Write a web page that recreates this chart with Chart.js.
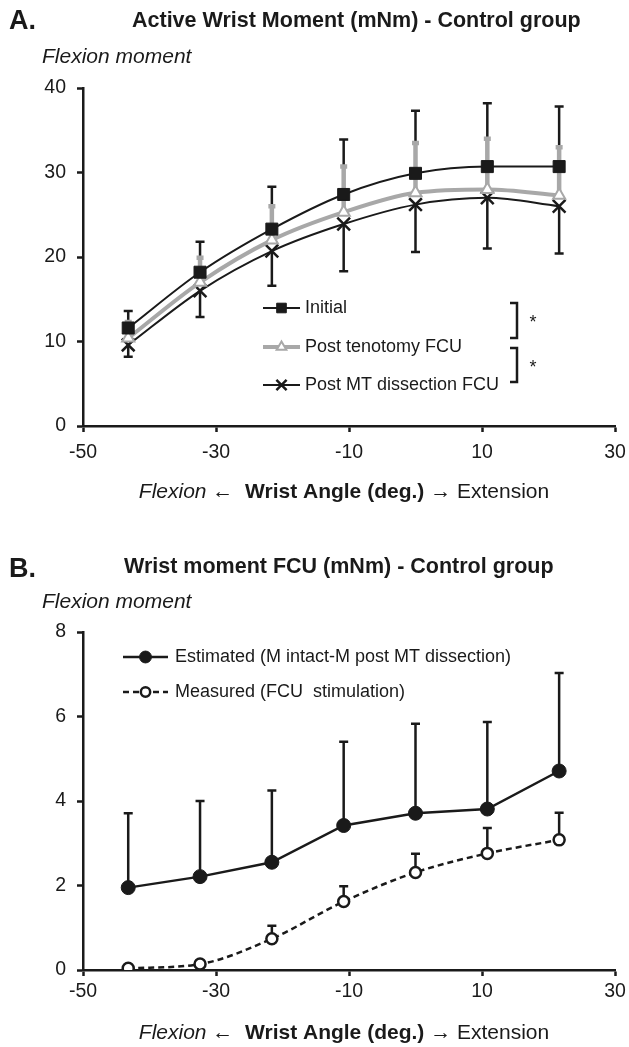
<!DOCTYPE html>
<html>
<head>
<meta charset="utf-8">
<title>Wrist moment - Control group</title>
<script src="https://cdn.jsdelivr.net/npm/chart.js@4.4.0/dist/chart.umd.min.js"></script>
<style>
  html, body { margin: 0; padding: 0; background: #fff; overflow: hidden; }
  #wrapA { position: absolute; left: 0; top: 0; width: 629px; height: 530px; }
  #wrapB { position: absolute; left: 0; top: 530px; width: 629px; height: 517px; }
  canvas { display: block; }
</style>
</head>
<body>
<div id="wrapA"><canvas id="chartA"></canvas></div>
<div id="wrapB"><canvas id="chartB"></canvas></div>
<script>
'use strict';

/* data */
const angles = [-43.2, -32.4, -21.6, -10.8, 0, 10.8, 21.6];
const xTicks = [-50, -30, -10, 10, 30];

// A. active wrist moment
const initialMean = [11.6, 18.2, 23.3, 27.4, 29.9, 30.7, 30.7];
const initialSd = [2.0, 3.6, 5.0, 6.5, 7.4, 7.5, 7.1];
const tenotomyMean = [10.4, 17.0, 22.0, 25.3, 27.6, 28.0, 27.3];
const tenotomySd = [1.9, 2.9, 4.0, 5.4, 5.9, 6.0, 5.7];
const mtMean = [9.6, 16.0, 20.7, 23.9, 26.2, 27.0, 26.0];
const mtSd = [1.4, 3.1, 4.1, 5.6, 5.6, 6.0, 5.6];
const yTicksA = [0, 10, 20, 30, 40];

// B. wrist moment FCU
const estimatedMean = [1.95, 2.21, 2.55, 3.42, 3.71, 3.81, 4.71];
const estimatedSd = [1.76, 1.79, 1.70, 1.98, 2.12, 2.06, 2.32];
const measuredMean = [0.04, 0.14, 0.74, 1.62, 2.31, 2.76, 3.08];
const measuredSd = [0.03, 0.05, 0.31, 0.36, 0.44, 0.60, 0.64];
const yTicksB = [0, 2, 4, 6, 8];

const FONT = '"Liberation Sans", Arial, Helvetica, sans-serif';
const INK = '#1a1a1a';
const GREY = '#a8a8a8';

function points(values) {
    return values.map(function(v, i) { return { x: angles[i], y: v }; });
}

/* error bars, drawn under the lines */
const errorBarPlugin = {
    id: 'errorBars',
    beforeDatasetsDraw(chart) {
        const ctx = chart.ctx;
        const xs = chart.scales.x;
        const ys = chart.scales.y;
        chart.data.datasets.forEach(function(ds) {
            if (!ds.errors) return;
            ctx.save();
            ctx.strokeStyle = ds.errColor;
            ctx.lineWidth = ds.errWidth;
            ds.data.forEach(function(p, i) {
                const px = xs.getPixelForValue(p.x);
                const y0 = ys.getPixelForValue(p.y);
                const y1 = ys.getPixelForValue(p.y + ds.errDir * ds.errors[i]);
                ctx.beginPath();
                ctx.moveTo(px, y0);
                ctx.lineTo(px, y1);
                ctx.moveTo(px - ds.capHalf, y1);
                ctx.lineTo(px + ds.capHalf, y1);
                ctx.stroke();
            });
            ctx.restore();
        });
    }
};

/* titles, panel letter, axis captions */
const framePlugin = {
    id: 'frame',
    afterDraw(chart, args, opts) {
        const ctx = chart.ctx;
        ctx.save();
        ctx.fillStyle = INK;
        ctx.textBaseline = 'middle';
        ctx.textAlign = 'left';

        ctx.font = 'bold 27px ' + FONT;
        ctx.fillText(opts.panel, 9, opts.panelY);

        ctx.font = 'bold 21.5px ' + FONT;
        ctx.fillText(opts.title, opts.titleX, opts.titleY);

        ctx.font = 'italic 21px ' + FONT;
        ctx.fillText('Flexion moment', 42, opts.yLabelY);

        // x caption with mixed styles
        const parts = [
            { t: 'Flexion', f: 'italic 21px ' + FONT },
            { t: ' \u2190  ', f: '21px ' + FONT },
            { t: 'Wrist Angle (deg.)', f: 'bold 21px ' + FONT },
            { t: ' \u2192 ', f: '21px ' + FONT },
            { t: 'Extension', f: '21px ' + FONT }
        ];
        let total = 0;
        parts.forEach(function(p) { ctx.font = p.f; p.w = ctx.measureText(p.t).width; total += p.w; });
        let x = opts.xLabelX - total / 2;
        parts.forEach(function(p) {
            ctx.font = p.f;
            ctx.fillText(p.t, x, opts.xLabelY);
            x += p.w;
        });
        ctx.restore();
    }
};

/* legend inside the plot, line + marker like the figure */
const panelLegendPlugin = {
    id: 'panelLegend',
    afterDraw(chart, args, opts) {
        const ctx = chart.ctx;
        const area = chart.chartArea;
        const x0 = area.left + opts.left;
        const rowsY = opts.rows.map(function(r) { return area.top + r; });
        ctx.save();
        chart.data.datasets.forEach(function(ds, i) {
            const y = rowsY[i];
            ctx.strokeStyle = ds.borderColor;
            ctx.lineWidth = ds.borderWidth;
            ctx.setLineDash(ds.borderDash || []);
            ctx.beginPath();
            ctx.moveTo(x0, y);
            ctx.lineTo(x0 + opts.lineLen, y);
            ctx.stroke();
            ctx.setLineDash([]);
            ctx.fillStyle = ds.pointBackgroundColor;
            ctx.strokeStyle = ds.pointBorderColor;
            ctx.lineWidth = ds.pointBorderWidth;
            Chart.helpers.drawPoint(ctx, {
                pointStyle: ds.pointStyle,
                radius: ds.pointRadius * opts.markerScale,
                borderWidth: ds.pointBorderWidth,
                rotation: 0
            }, x0 + opts.lineLen / 2, y);
            ctx.fillStyle = INK;
            ctx.font = opts.font;
            ctx.textBaseline = 'middle';
            ctx.textAlign = 'left';
            ctx.fillText(ds.label, x0 + opts.lineLen + opts.gap, y);
        });

        // significance brackets
        (opts.brackets || []).forEach(function(b, k) {
            const top = rowsY[b[0]] - 5 + 6 * k;
            const bottom = rowsY[b[1]] - 9 + 6 * k;
            const bx = area.left + opts.bracketX;
            ctx.strokeStyle = INK;
            ctx.lineWidth = 2.5;
            ctx.beginPath();
            ctx.moveTo(bx - 7, top);
            ctx.lineTo(bx, top);
            ctx.lineTo(bx, bottom);
            ctx.lineTo(bx - 7, bottom);
            ctx.stroke();
            ctx.fillStyle = INK;
            ctx.font = '18px ' + FONT;
            ctx.textAlign = 'center';
            ctx.textBaseline = 'middle';
            ctx.fillText('*', bx + 16, (top + bottom) / 2 + 3);
        });
        ctx.restore();
    }
};

function axes(yTicks, xHeight, xPad) {
    const tickFont = { family: FONT, size: 19.5 };
    const grid = { drawOnChartArea: false, drawTicks: true, tickLength: 6, tickWidth: 2.5, tickColor: INK, color: INK };
    const border = { display: true, color: INK, width: 2.5 };
    return {
        x: {
            type: 'linear',
            min: xTicks[0],
            max: xTicks[xTicks.length - 1],
            afterBuildTicks: function(scale) { scale.ticks = xTicks.map(function(v) { return { value: v }; }); },
            afterFit: function(scale) {
                scale.height = xHeight;
                scale.paddingLeft = 0;
                scale.paddingRight = 0;
            },
            ticks: { font: tickFont, color: INK, padding: xPad, maxRotation: 0, autoSkip: false },
            grid: grid,
            border: border
        },
        y: {
            min: yTicks[0],
            max: yTicks[yTicks.length - 1],
            afterBuildTicks: function(scale) { scale.ticks = yTicks.map(function(v) { return { value: v }; }); },
            afterFit: function(scale) {
                scale.width = 83;
                scale.paddingTop = 0;
                scale.paddingBottom = 0;
            },
            ticks: { font: tickFont, color: INK, padding: 11 },
            grid: grid,
            border: border
        }
    };
}

/* chart A */
new Chart(document.getElementById('chartA'), {
    type: 'line',
    data: {
        datasets: [{
            label: 'Initial',
            data: points(initialMean),
            errors: initialSd, errDir: 1, errColor: INK, errWidth: 2.5, capHalf: 4.5,
            borderColor: INK, borderWidth: 2, cubicInterpolationMode: 'monotone',
            pointStyle: 'rect', pointRadius: 8.5, pointBackgroundColor: INK, pointBorderColor: INK, pointBorderWidth: 1
        }, {
            label: 'Post tenotomy FCU',
            data: points(tenotomyMean),
            errors: tenotomySd, errDir: 1, errColor: GREY, errWidth: 4.5, capHalf: 3.5,
            borderColor: GREY, borderWidth: 4, cubicInterpolationMode: 'monotone',
            pointStyle: 'triangle', pointRadius: 7, pointBackgroundColor: '#fff', pointBorderColor: GREY, pointBorderWidth: 2
        }, {
            label: 'Post MT dissection FCU',
            data: points(mtMean),
            errors: mtSd, errDir: -1, errColor: INK, errWidth: 2.5, capHalf: 4.5,
            borderColor: INK, borderWidth: 2, cubicInterpolationMode: 'monotone',
            pointStyle: 'crossRot', pointRadius: 9, pointBackgroundColor: INK, pointBorderColor: INK, pointBorderWidth: 2.5
        }]
    },
    options: {
        responsive: true,
        maintainAspectRatio: false,
        animation: false,
        devicePixelRatio: 1,
        layout: { padding: { top: 88, right: 14, bottom: 0, left: 0 } },
        scales: axes(yTicksA, 104, 9),
        plugins: {
            legend: { display: false },
            tooltip: { enabled: false },
            frame: {
                panel: 'A.', panelY: 22,
                title: 'Active Wrist Moment (mNm) - Control group', titleX: 132, titleY: 21,
                yLabelY: 57, xLabelX: 344, xLabelY: 492
            },
            panelLegend: {
                left: 180, lineLen: 37, gap: 5, rows: [220, 259, 297], markerScale: 0.8,
                font: '18px ' + FONT, brackets: [[0, 1], [1, 2]], bracketX: 434
            }
        }
    },
    plugins: [errorBarPlugin, framePlugin, panelLegendPlugin]
});

/* chart B */
new Chart(document.getElementById('chartB'), {
    type: 'line',
    data: {
        datasets: [{
            label: 'Estimated (M intact-M post MT dissection)',
            data: points(estimatedMean),
            errors: estimatedSd, errDir: 1, errColor: INK, errWidth: 2.5, capHalf: 4.5,
            borderColor: INK, borderWidth: 2.5, tension: 0,
            pointStyle: 'circle', pointRadius: 7, pointBackgroundColor: INK, pointBorderColor: INK, pointBorderWidth: 1
        }, {
            label: 'Measured (FCU  stimulation)',
            data: points(measuredMean),
            errors: measuredSd, errDir: 1, errColor: INK, errWidth: 2.5, capHalf: 4.5,
            borderColor: INK, borderWidth: 2.5, borderDash: [6, 4], cubicInterpolationMode: 'monotone',
            pointStyle: 'circle', pointRadius: 5.5, pointBackgroundColor: '#fff', pointBorderColor: INK, pointBorderWidth: 2.5
        }]
    },
    options: {
        responsive: true,
        maintainAspectRatio: false,
        animation: false,
        devicePixelRatio: 1,
        layout: { padding: { top: 102, right: 14, bottom: 0, left: 0 } },
        scales: axes(yTicksB, 77, 4),
        plugins: {
            legend: { display: false },
            tooltip: { enabled: false },
            frame: {
                panel: 'B.', panelY: 40,
                title: 'Wrist moment FCU (mNm) - Control group', titleX: 124, titleY: 37,
                yLabelY: 72, xLabelX: 344, xLabelY: 503
            },
            panelLegend: {
                left: 40, lineLen: 45, gap: 7, rows: [25, 60], markerScale: 0.85,
                font: '18px ' + FONT
            }
        }
    },
    plugins: [errorBarPlugin, framePlugin, panelLegendPlugin]
});
</script>
</body>
</html>
